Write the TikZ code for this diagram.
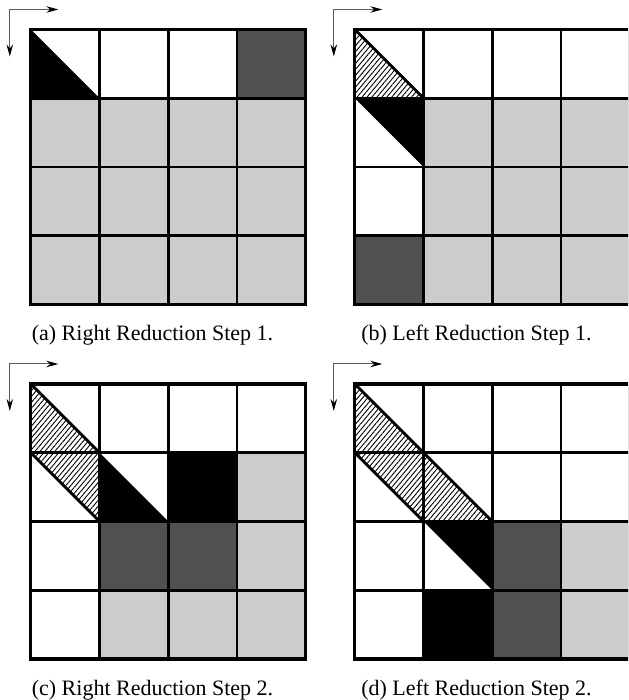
\documentclass[tikz,border=0pt]{standalone}
\usepackage{fontspec}
\setmainfont{Liberation Serif}
\usetikzlibrary{arrows.meta,patterns.meta}
\definecolor{lgray}{HTML}{CCCCCC}
\definecolor{dgray}{HTML}{505050}
\definecolor{agray}{HTML}{5A5A5A}
\def\s{68.75}
\tikzset{
  hatch/.style={pattern={Lines[angle=50,distance=3.8pt,line width=0.9pt]}},
  gridline/.style={line width=2.7pt},
  border/.style={line width=3.2pt},
  diag/.style={line width=2.8pt, line cap=round},
  axisarrow/.style={draw=agray, line width=1pt,
    {Stealth[length=12pt,width=6.5pt,color=black]}-{Stealth[length=12pt,width=6.5pt,color=black]}},
  caption/.style={anchor=base, font=\fontsize{22}{26}\selectfont, inner sep=0pt},
}
\newcommand\mygrid{%
  \foreach \k in {1,2,3} {
    \draw[gridline] (\k*\s,0) -- (\k*\s,-4*\s);
    \draw[gridline] (0,-\k*\s) -- (4*\s,-\k*\s);
  }
  \draw[border] (0,0) rectangle (4*\s,-4*\s);
}
\newcommand\myaxes[1]{%
  \coordinate (#1-h) at (27.5,20);
  \coordinate (#1-o) at (-21,20);
  \coordinate (#1-v) at (-21,-27);
  \draw[axisarrow] (#1-h) -- (#1-o) -- (#1-v);
}
\begin{document}
\begin{tikzpicture}[x=1pt,y=1pt]
\useasboundingbox (0,0) rectangle (628,700);
\fill[white] (0,0) rectangle (628,700);
\clip (0,0) rectangle (628,700);

% (a)
\begin{scope}[shift={(30.8,670.5)}]
  \fill[black] (0,0) -- (0,-\s) -- (\s,-\s) -- cycle;
  \fill[dgray] (3*\s,0) rectangle (4*\s,-\s);
  \fill[lgray] (0,-\s) rectangle (4*\s,-4*\s);
  \mygrid
  \myaxes{a}
\end{scope}
\node[caption] (capa) at (152.5,359) {(a) Right Reduction Step 1.};

% (b)
\begin{scope}[shift={(354.8,670.5)}]
  \fill[hatch] (0,0) -- (0,-\s) -- (\s,-\s) -- cycle;
  \fill[black] (0,-\s) -- (\s,-\s) -- (\s,-2*\s) -- cycle;
  \fill[dgray] (0,-3*\s) rectangle (\s,-4*\s);
  \fill[lgray] (\s,-\s) rectangle (4*\s,-4*\s);
  \draw[diag] (0,0) -- (\s,-\s);
  \mygrid
  \myaxes{b}
\end{scope}
\node[caption] (capb) at (476.5,359) {(b) Left Reduction Step 1.};

% (c)
\begin{scope}[shift={(30.8,316)}]
  \fill[hatch] (0,0) -- (\s,-\s) -- (\s,-2*\s) -- (0,-\s) -- cycle;
  \fill[black] (\s,-\s) -- (\s,-2*\s) -- (2*\s,-2*\s) -- cycle;
  \fill[black] (2*\s,-\s) rectangle (3*\s,-2*\s);
  \fill[lgray] (3*\s,-\s) rectangle (4*\s,-3*\s);
  \fill[dgray] (\s,-2*\s) rectangle (3*\s,-3*\s);
  \fill[lgray] (\s,-3*\s) rectangle (4*\s,-4*\s);
  \draw[diag] (0,0) -- (\s,-\s);
  \draw[diag] (0,-\s) -- (\s,-2*\s);
  \mygrid
  \myaxes{c}
\end{scope}
\node[caption] (capc) at (152.5,4.5) {(c) Right Reduction Step 2.};

% (d)
\begin{scope}[shift={(354.8,316)}]
  \fill[hatch] (0,0) -- (2*\s,-2*\s) -- (\s,-2*\s) -- (0,-\s) -- cycle;
  \fill[black] (\s,-2*\s) -- (2*\s,-2*\s) -- (2*\s,-3*\s) -- cycle;
  \fill[dgray] (2*\s,-2*\s) rectangle (3*\s,-4*\s);
  \fill[lgray] (3*\s,-2*\s) rectangle (4*\s,-4*\s);
  \fill[black] (\s,-3*\s) rectangle (2*\s,-4*\s);
  \draw[diag] (0,0) -- (2*\s,-2*\s);
  \draw[diag] (0,-\s) -- (\s,-2*\s);
  \mygrid
  \myaxes{d}
\end{scope}
\node[caption] (capd) at (476.5,4.5) {(d) Left Reduction Step 2.};
\end{tikzpicture}
\end{document}
